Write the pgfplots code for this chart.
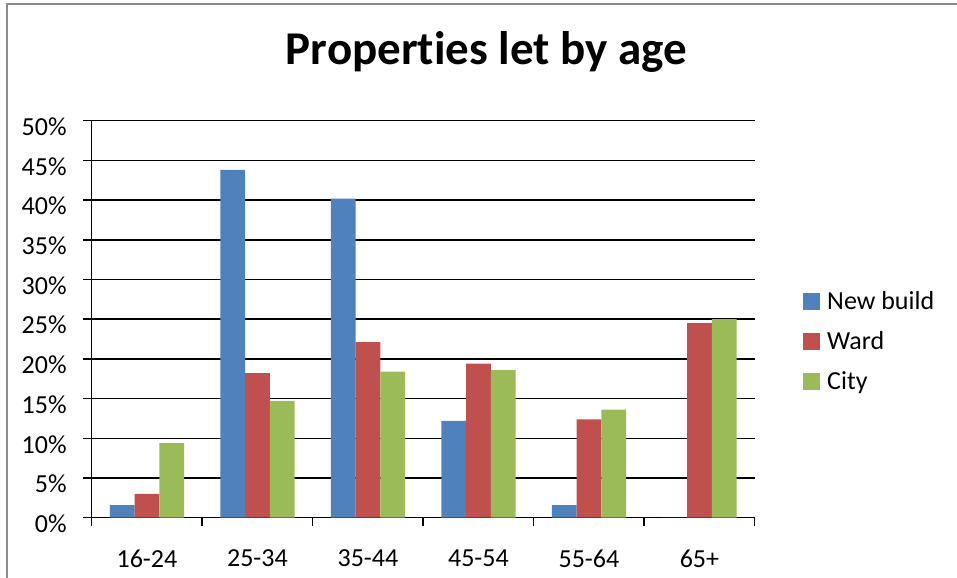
\documentclass[border=0pt]{standalone}
\usepackage{fontspec}
\setmainfont{Carlito}[Ligatures=NoCommon]
\usepackage{pgfplots}
\pgfplotsset{compat=1.18}
\definecolor{newbuild}{HTML}{4F81BD}
\definecolor{ward}{HTML}{C0504D}
\definecolor{city}{HTML}{9BBB59}
\definecolor{framegrey}{HTML}{8C8C8C}

% share of properties let, per age band (%)
\begin{document}
\begin{tikzpicture}
\path[use as bounding box] (0bp,0bp) rectangle (957bp,-578bp);
\draw[framegrey,line width=2bp] (7bp,-600bp) -- (7bp,-4bp) -- (980bp,-4bp);
\node[font=\fontsize{47bp}{54bp}\selectfont\bfseries,anchor=base] at (486.5bp,-64.3bp) {Properties let by age};
\begin{axis}[
  at={(91.7bp,-517.7bp)},anchor=south west,
  width=663bp,height=397bp,scale only axis,
  ybar=0pt,bar width=24.8bp,
  xmin=-0.5,xmax=5.5,ymin=0,ymax=50,
  axis x line*=bottom,axis y line*=left,
  axis line style={black,line width=1.5bp},
  every axis plot/.append style={draw=none},
  tick align=outside,major tick length=8.5bp,
  tick style={black,line width=1.5bp},
  xtick={-0.5,0.5,...,5.5},
  x tick label as interval,
  xticklabels={16-24,25-34,35-44,45-54,55-64,65+},
  ytick={0,5,...,50},
  yticklabels={0\%,5\%,10\%,15\%,20\%,25\%,30\%,35\%,40\%,45\%,50\%},
  ymajorgrids,grid style={black,line width=1.5bp},
  ticklabel style={font=\fontsize{26bp}{31bp}\selectfont},
  yticklabel style={yshift=-6bp,xshift=-13bp},
  xticklabel style={yshift=-20bp},
  legend style={draw=none,fill=none,at={(1.0729,0.4438)},anchor=west,
    inner sep=0pt,row sep=0pt,column sep=7bp,
    nodes={inner sep=0pt,minimum height=40bp},
    font=\fontsize{26bp}{31bp}\selectfont},
  legend cell align=left,
  /tikz/every even column/.append style={text height=16.5bp,text depth=0pt},
  legend image code/.code={\fill[#1] (0bp,-8.5bp) rectangle (17bp,8.5bp);},
]
\addplot[fill=newbuild] coordinates {(0,1.6) (1,43.8) (2,40.2) (3,12.2) (4,1.6) (5,0)};
\addplot[fill=ward] coordinates {(0,3.0) (1,18.2) (2,22.1) (3,19.4) (4,12.4) (5,24.5)};
\addplot[fill=city] coordinates {(0,9.4) (1,14.7) (2,18.4) (3,18.6) (4,13.6) (5,25.0)};
\legend{New build,Ward,City}
\end{axis}
\end{tikzpicture}
\end{document}
